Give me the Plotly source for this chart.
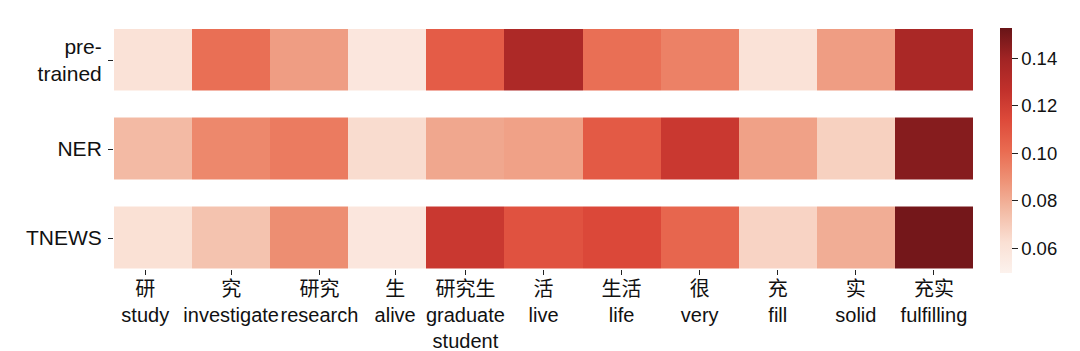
import plotly.graph_objects as go

rows = ["pre-<br>trained", "NER", "TNEWS"]
cols = ["研<br>study", "究<br>investigate", "研究<br>research", "生<br>alive",
        "研究生<br>graduate<br>student", "活<br>live", "生活<br>life", "很<br>very",
        "充<br>fill", "实<br>solid", "充实<br>fulfilling"]

pretrained = [0.061, 0.100, 0.085, 0.058, 0.107, 0.135, 0.100, 0.094, 0.061, 0.085, 0.136]
ner =        [0.076, 0.092, 0.096, 0.064, 0.082, 0.084, 0.108, 0.123, 0.084, 0.068, 0.146]
tnews =      [0.062, 0.073, 0.090, 0.058, 0.123, 0.111, 0.115, 0.103, 0.067, 0.080, 0.150]

zmin, zmax = 0.0496, 0.1528
cbar_ticks = [0.06, 0.08, 0.10, 0.12, 0.14]

# muted "Reds" palette as seen in the reference colorbar
colorscale = [
    [0.0, "#fcf2ed"], [0.125, "#fae0d4"], [0.25, "#f3bca6"], [0.375, "#ee9377"],
    [0.5, "#e96b51"], [0.625, "#dd4a3a"], [0.75, "#c0302b"], [0.875, "#a12424"],
    [1.0, "#681417"],
]

z = [pretrained, ner, tnews]
xs = list(range(len(cols)))
ys = list(range(len(rows)))

# small horizontal nudges of some tick labels (as in the reference)
label_nudge = [-0.1, 0, 0.13, 0.1, 0, 0, 0, 0, 0, 0, 0]
tick_x = [x + n for x, n in zip(xs, label_nudge)]

FONT = "Liberation Sans, Arial, Noto Sans CJK SC, sans-serif"

W, H = 1080, 351
L, R, T, B = 114, 107, 29, 82
plot_h = H - T - B
gap = 27
d = (gap / 2) * 3 / (plot_h + gap)

fig = go.Figure(go.Heatmap(
    z=z, x=xs, y=ys,
    colorscale=colorscale, zmin=zmin, zmax=zmax,
    ygap=gap, xgap=0,
    colorbar=dict(
        thickness=12, len=245, lenmode="pixels",
        x=(1000 - L) / (W - L - R), xanchor="left", xpad=0,
        y=(H - B - 28) / plot_h, yanchor="top", ypad=0,
        outlinewidth=0,
        tickvals=cbar_ticks, ticktext=[f"{v:.2f}" for v in cbar_ticks],
        ticks="outside", ticklen=6, tickwidth=1.3, tickcolor="#222",
        tickfont=dict(family=FONT, size=18.5, color="#111"),
    ),
))

fig.update_xaxes(
    tickvals=tick_x, ticktext=cols, range=[-0.5, len(cols) - 0.5],
    ticks="outside", ticklen=5, tickwidth=1.3, tickcolor="#222",
    tickfont=dict(family=FONT, size=20, color="#111"),
    ticklabelstandoff=-3,
    showgrid=False, zeroline=False, showline=False, tickangle=0,
)
fig.update_yaxes(
    tickvals=ys, ticktext=rows, range=[2.5 - d, -0.5 + d],
    ticks="outside", ticklen=5, tickwidth=1.3, tickcolor="#222",
    tickfont=dict(family=FONT, size=21, color="#111"),
    ticklabelstandoff=2,
    showgrid=False, zeroline=False, showline=False,
)
fig.update_layout(
    width=W, height=H,
    margin=dict(l=L, r=R, t=T, b=B, autoexpand=False),
    paper_bgcolor="white", plot_bgcolor="white",
)
fig.write_html("out.html")
